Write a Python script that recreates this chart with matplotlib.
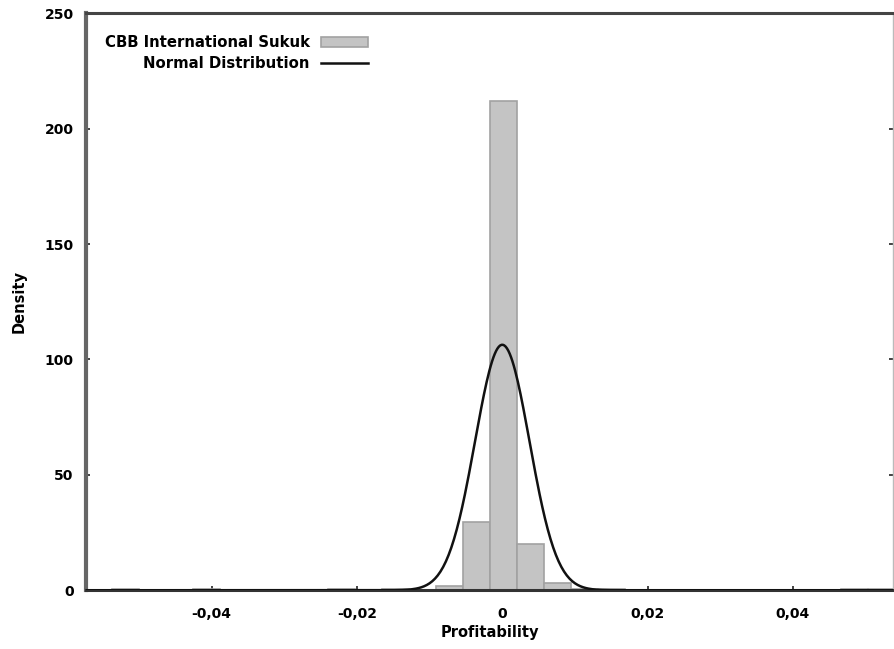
import numpy as np
import matplotlib
matplotlib.use("Agg")
import matplotlib.pyplot as plt

# histogram of profitability (density), bin width and bin centres
bin_width = 0.003714
bin_centers = [-0.05180, -0.04066, -0.02209, -0.01466, -0.00723, -0.00351,
               0.00020, 0.00391, 0.00763, 0.01134, 0.01506, 0.04848, 0.05220]
densities = [0.5, 0.5, 0.5, 0.5, 2.0, 29.4, 212.0, 20.0, 3.0, 0.5, 0.5, 0.5, 0.5]

# fitted normal distribution
mu = 0.0
sigma = 0.00375

xticks = [-0.04, -0.02, 0.0, 0.02, 0.04]
xtick_labels = ["-0,04", "-0,02", "0", "0,02", "0,04"]
yticks = [0, 50, 100, 150, 200, 250]

plt.rcParams['font.family'] = ['DejaVu Sans']
plt.rcParams['font.weight'] = 'bold'

fig = plt.figure(figsize=(8.94, 6.49), dpi=100)
ax = fig.add_axes([0.0962, 0.0905, 0.9028, 0.889])

bars = ax.bar(bin_centers, densities, width=bin_width, color="#c4c4c4",
              edgecolor="#a2a2a2", linewidth=1.2, zorder=2)

xs = np.linspace(-0.0575, 0.0545, 600)
pdf = np.exp(-0.5 * ((xs - mu) / sigma) ** 2) / (sigma * np.sqrt(2 * np.pi))
line, = ax.plot(xs, pdf, color="#111111", lw=1.8, zorder=3)

ax.set_xlim(-0.0573, 0.0538)
ax.set_ylim(0, 250)
ax.set_xticks(xticks)
ax.set_xticklabels(xtick_labels)
ax.set_yticks(yticks)

ax.tick_params(axis='both', direction='in', length=3, width=1.2, labelsize=10, color="#222222")
ax.tick_params(axis='y', right=True, pad=9)
ax.tick_params(axis='x', pad=12)
for lab in ax.get_xticklabels() + ax.get_yticklabels():
    lab.set_fontweight('bold')

ax.spines['left'].set_color("#666666")
ax.spines['left'].set_linewidth(3.0)
ax.spines['bottom'].set_color("#333333")
ax.spines['bottom'].set_linewidth(2.2)
ax.spines['top'].set_color("#444444")
ax.spines['top'].set_linewidth(2.2)
ax.spines['right'].set_color("#bbbbbb")
ax.spines['right'].set_linewidth(1.0)

ax.set_xlabel("Profitability", fontsize=10.5, fontweight='bold', labelpad=3)
ax.set_ylabel("Density", fontsize=10.5, fontweight='bold', labelpad=13)

leg = ax.legend([bars, line], ["CBB International Sukuk", "Normal Distribution"],
                loc='upper left', bbox_to_anchor=(0.012, 0.978), frameon=False,
                markerfirst=False, fontsize=10.7, handlelength=3.2,
                handletextpad=0.75, labelspacing=0.4, borderaxespad=0.2)
for t in leg.get_texts():
    t.set_fontweight('bold')

fig.savefig("out.png", dpi=100)
